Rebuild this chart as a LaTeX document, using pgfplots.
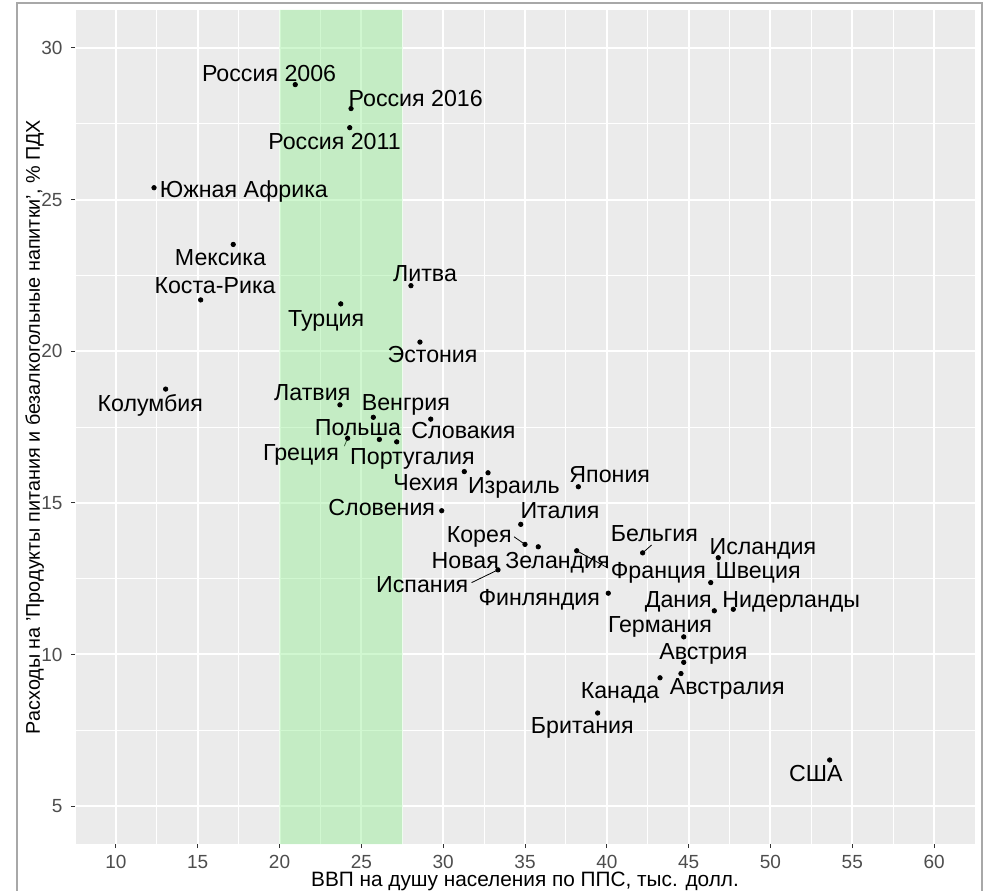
\documentclass[border=0pt]{standalone}
\usepackage{fontspec}
\setmainfont{Liberation Sans}
\usepackage{pgfplots}
\usepackage{pgfplotstable}
\pgfplotsset{compat=1.18}

\definecolor{panel}{HTML}{EBEBEB}
\definecolor{lgreen}{RGB}{144,238,144}
\definecolor{tickgray}{HTML}{4D4D4D}
\definecolor{framegray}{HTML}{A8A8A8}

% x = ВВП, y = расходы, lx/ly = где стоит подпись
\pgfplotstableread[col sep=comma]{
x,y,lx,ly,name
20.96,28.79,19.36,28.89,Россия 2006
24.37,28.00,28.32,28.08,Россия 2016
24.29,27.37,23.36,26.66,Россия 2011
12.33,25.39,17.82,25.07,Южная Африка
17.17,23.52,16.39,22.82,Мексика
28.03,22.16,28.89,22.29,Литва
15.18,21.69,16.06,21.89,Коста-Рика
23.74,21.56,22.85,20.81,Турция
28.58,20.30,29.35,19.62,Эстония
13.04,18.75,12.10,18.00,Колумбия
23.69,18.23,22.00,18.36,Латвия
25.73,17.82,27.72,18.06,Венгрия
29.24,17.76,31.24,17.13,Словакия
26.10,17.09,24.79,17.21,Польша
24.16,17.13,21.31,16.38,Греция
27.16,17.01,28.12,16.27,Португалия
31.29,16.03,28.94,15.39,Чехия
32.74,15.99,34.32,15.31,Израиль
29.91,14.74,26.24,14.57,Словения
38.26,15.53,40.18,15.66,Япония
34.74,14.29,37.14,14.49,Италия
35.00,13.63,32.20,13.70,Корея
35.81,13.55,34.74,12.84,Новая Зеландия
33.35,12.79,28.72,12.04,Испания
38.16,13.42,43.15,12.51,Франция
42.19,13.35,42.91,13.72,Бельгия
46.81,13.19,49.54,13.31,Исландия
46.35,12.37,49.24,12.51,Швеция
40.09,12.02,35.87,11.60,Финляндия
46.57,11.44,44.37,11.56,Дания
47.73,11.49,51.27,11.56,Нидерланды
44.70,10.58,43.25,10.72,Германия
44.70,9.74,45.90,9.85,Австрия
44.53,9.37,47.36,8.69,Австралия
43.25,9.23,40.81,8.55,Канада
39.44,8.07,38.50,7.38,Британия
53.62,6.52,52.78,5.82,США
}\data

\begin{document}
\begin{tikzpicture}
\useasboundingbox (0,0) rectangle (492pt,445pt);
\clip (0,0) rectangle (492pt,445pt);
\draw[framegray, line width=1pt] (8.5pt,-5pt) rectangle (491pt,443.5pt);
\begin{axis}[
    at={(37.5pt,23pt)}, anchor=south west,
    scale only axis, width=450pt, height=417pt,
    xmin=7.5, xmax=62.5, ymin=3.75, ymax=31.25,
    axis background/.style={fill=panel},
    axis line style={draw=none},
    xtick={10,15,...,60}, ytick={5,10,...,30},
    minor xtick={7.5,12.5,...,62.5}, minor ytick={7.5,12.5,...,27.5},
    xtick pos=bottom, ytick pos=left,
    grid=both,
    major grid style={white, line width=1pt},
    minor grid style={white, line width=0.5pt},
    tick align=outside, major tick length=2pt, minor tick length=0pt,
    tick style={color=black!80, line width=0.5pt},
    /pgf/number format/assume math mode=true,
    ticklabel style={font=\fontsize{9.5}{11}\selectfont, text=tickgray},
    xticklabel style={anchor=base, yshift=-10pt, inner sep=0pt},
    yticklabel style={anchor=east, inner sep=0pt, xshift=-4.1pt},
    xlabel={ВВП на душу населения по ППС, тыс. долл.},
    ylabel={Расходы на 'Продукты питания и безалкогольные напитки', \% ПДХ},
    xlabel style={font=\fontsize{10.4}{12}\selectfont, inner sep=0pt,
        at={(axis description cs:0.5,-0.0505)}, anchor=base},
    ylabel style={font=\fontsize{9.9}{12}\selectfont,
        at={(axis description cs:-0.0448,0.5)}, anchor=center},
    clip=false,
]
\addplot[only marks, mark=*, mark size=1.1pt, black] table[x=x, y=y] {\data};

\addplot[draw=none, mark=none, nodes near coords, point meta=explicit symbolic,
    nodes near coords style={anchor=base, inner sep=0pt, text=black,
        font=\fontsize{11.6}{13}\selectfont}]
    table[x=lx, y=ly, meta=name] {\data};

% соединительные линии подписей
\addplot[black, line width=0.4pt] coordinates {(24.16,17.13) (23.96,16.87)};
\addplot[black, line width=0.4pt] coordinates {(34.33,13.88) (35.00,13.63)};
\addplot[black, line width=0.4pt] coordinates {(38.16,13.42) (40.07,12.85)};
\addplot[black, line width=0.4pt] coordinates {(31.74,12.37) (33.35,12.79)};
\addplot[black, line width=0.4pt] coordinates {(42.19,13.35) (42.74,13.61)};

% зелёная полоса поверх всего
\addplot[draw=none, fill=lgreen, fill opacity=0.42]
    coordinates {(20,3.75) (27.5,3.75) (27.5,31.25) (20,31.25) (20,3.75)};
\end{axis}
\end{tikzpicture}
\end{document}
